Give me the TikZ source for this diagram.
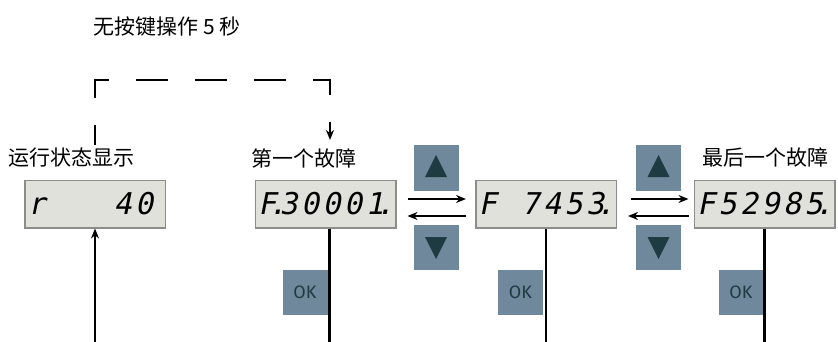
\documentclass[tikz,border=0pt]{standalone}
\usepackage{fontspec}
\setmainfont{Noto Sans CJK SC}
\newfontfamily\segfont[FakeSlant=0.2]{DejaVu Sans Mono}
\newfontfamily\okfont{Fira Sans}
\usetikzlibrary{arrows.meta, positioning, calc}
\definecolor{lcdgray}{HTML}{E1E1DB}
\definecolor{lcdframe}{HTML}{8C8C8C}
\definecolor{keyblue}{HTML}{6F889B}
\definecolor{keydark}{HTML}{1F3B42}
\newcommand{\segdot}{\rlap{\kern-8pt.}}
\newcommand{\lcdtext}[6]{{\segfont\fontsize{30}{30}\selectfont\kern-9pt%
  \makebox[21.5pt]{#1}\makebox[21.5pt]{#2}\makebox[21.5pt]{#3}%
  \makebox[21.5pt]{#4}\makebox[21.5pt]{#5}\makebox[21.5pt]{#6}}}

\begin{document}
\begin{tikzpicture}[
    x=1pt, y=-1pt,
    lcd/.style={rectangle, draw=lcdframe, line width=1.5pt, fill=lcdgray, minimum width=140.5pt, minimum height=47.5pt, inner sep=0pt},
    key/.style={rectangle, fill=keyblue, minimum size=45pt, inner sep=0pt},
    okkey/.style={key, text=keydark, font=\okfont\fontsize{18}{18}\selectfont},
    caption/.style={inner sep=0pt, font=\fontsize{21}{21}\selectfont},
    arrow/.style={-{Stealth[length=10pt, width=8pt]}, line width=1.8pt},
    wire/.style={line width=2.2pt},
    dashline/.style={-{Stealth[length=10pt, width=8pt]}, line width=2.2pt, dash pattern=on 32pt off 27pt, dash phase=12pt}
]
\useasboundingbox (0,0) rectangle (838,342);

% displays
\node[lcd] (d1) at (95,204) {\lcdtext{r}{}{}{}{4}{0}};
\node[lcd, right=88.5pt of d1] (d2) {\lcdtext{F\segdot}{3}{0}{0}{0}{1\segdot}};
\node[lcd, right=78.5pt of d2] (d3) {\lcdtext{F}{}{7}{4}{5}{3\segdot}};
\node[lcd, right=76.5pt of d3] (d4) {\lcdtext{F}{5}{2}{9}{8}{5\segdot}};

% captions
\node[caption, anchor=west] (hint) at (93,27) {无按键操作\hspace{5pt}5\hspace{5pt}秒};
\node[caption] (l1) at (72,158) {运行状态显示};
\node[caption] (l2) at (304,158) {第一个故障};
\node[caption] (l4) at (765,157) {最后一个故障};

% up / down keys
\node[key] (u1) at (436,168) {};
\node[key] (n1) at (436,247.5) {};
\node[key] (u2) at (658.5,168) {};
\node[key] (n2) at (658.5,247.5) {};
\fill[keydark] ($(u1)+(-11,9)$) -- ($(u1)+(11,9)$) -- ($(u1)+(0,-13)$) -- cycle;
\fill[keydark] ($(u2)+(-11,9)$) -- ($(u2)+(11,9)$) -- ($(u2)+(0,-13)$) -- cycle;
\fill[keydark] ($(n1)+(-11,-10.5)$) -- ($(n1)+(11,-10.5)$) -- ($(n1)+(0,11.5)$) -- cycle;
\fill[keydark] ($(n2)+(-11,-10.5)$) -- ($(n2)+(11,-10.5)$) -- ($(n2)+(0,11.5)$) -- cycle;

% OK keys
\node[okkey] (ok2) at (305,292) {OK};
\node[okkey] (ok3) at (520.5,292) {OK};
\node[okkey] (ok4) at (741,292) {OK};

% arrows between displays
\draw[arrow, shorten <=11pt, shorten >=9pt] ([yshift=5pt]d2.east) -- ([yshift=5pt]d3.west);
\draw[arrow, shorten <=9pt, shorten >=11pt] ([yshift=-12pt]d3.west) -- ([yshift=-12pt]d2.east);
\draw[arrow, shorten <=14pt, shorten >=5pt] ([yshift=5pt]d3.east) -- ([yshift=5pt]d4.west);
\draw[arrow, shorten <=5pt, shorten >=11pt] ([yshift=-12pt]d4.west) -- ([yshift=-12pt]d3.east);

% vertical lines
\coordinate (b1) at (95,342);
\draw[arrow, line width=2.2pt] (b1) -- (d1.south);
\draw[wire] ([xshift=4pt]d2.south) -- ([xshift=4pt]d2.south |- b1);
\draw[wire] (d3.south) -- (d3.south |- b1);
\draw[wire] (d4.south) -- (d4.south |- b1);

% timeout path
\coordinate (ds) at (95,145);
\coordinate (de) at (330,140);
\draw[dashline] (ds) -- (95,80) -| (de);
\end{tikzpicture}
\end{document}
